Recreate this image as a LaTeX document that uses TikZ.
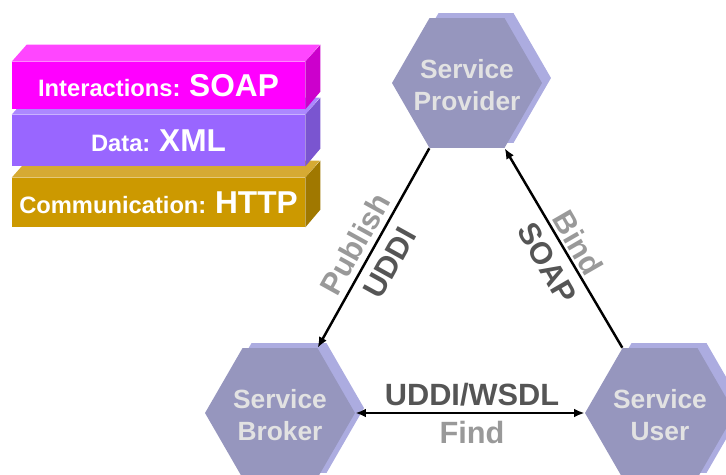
\documentclass[tikz,border=0pt]{standalone}
\usepackage{fontspec}
\setmainfont{Liberation Sans}
\usetikzlibrary{shapes.geometric,arrows.meta,positioning}

\definecolor{hexfront}{RGB}{150,150,190}
\definecolor{hexback}{RGB}{172,172,224}
\definecolor{hextext}{RGB}{226,226,226}
\definecolor{lblgray}{RGB}{153,153,153}
\definecolor{lbldark}{RGB}{85,85,85}
\definecolor{pinkfront}{RGB}{255,0,255}
\definecolor{pinktop}{RGB}{255,70,255}
\definecolor{pinkside}{RGB}{204,0,204}
\definecolor{purpfront}{RGB}{153,102,255}
\definecolor{purptop}{RGB}{172,136,255}
\definecolor{purpside}{RGB}{122,85,208}
\definecolor{goldfront}{RGB}{204,153,0}
\definecolor{goldtop}{RGB}{214,170,51}
\definecolor{goldside}{RGB}{160,120,0}

\begin{document}
\begin{tikzpicture}[x=0.02cm,y=-0.02cm]
	\tikzstyle{hexnode} = [regular polygon, regular polygon sides=6, minimum size=3cm, inner sep=0pt, fill=hexfront]
	\tikzstyle{hexshade} = [regular polygon, regular polygon sides=6, minimum size=3cm, inner sep=0pt, fill=hexback]
	\tikzstyle{hextxt} = [text=hextext, align=center, inner sep=0pt, yshift=-0.04cm, font=\bfseries\fontsize{15}{18.5}\selectfont]
	\tikzstyle{layerbox} = [rectangle, minimum width=5.86cm, inner sep=0pt, text=white, font=\bfseries]
	\tikzstyle{link} = [-{Latex[length=6pt,width=5pt]}, line width=1.4pt, black]
	\tikzstyle{lbl} = [font=\bfseries\fontsize{17.5}{20}\selectfont, inner sep=0pt]

	\useasboundingbox (0,0) rectangle (726,474);

	% protocol stack
	\node (http) at (158.5,202.5) [layerbox, fill=goldfront, minimum height=0.98cm]{\fontsize{13.5}{15}\selectfont Communication: \fontsize{18}{20}\selectfont HTTP};
	\fill[goldtop] (http.north west) -- ++(15,-17) -- ++(293,0) -- (http.north east) -- cycle;
	\fill[goldside] (http.north east) -- ++(15,-17) -- ++(0,49) -- (http.south east) -- cycle;

	\node (xml) at (158.5,140.5) [layerbox, fill=purpfront, minimum height=1.02cm]{\fontsize{13.5}{15}\selectfont Data: \fontsize{18}{20}\selectfont XML};
	\fill[purptop] (xml.north west) -- ++(15,-17) -- ++(293,0) -- (xml.north east) -- cycle;
	\fill[purpside] (xml.north east) -- ++(15,-17) -- ++(0,51) -- (xml.south east) -- cycle;

	\node (soap) at (158.5,85.5) [layerbox, fill=pinkfront, minimum height=0.94cm]{\fontsize{13.5}{15}\selectfont Interactions: \fontsize{18}{20}\selectfont SOAP};
	\fill[pinktop] (soap.north west) -- ++(15,-17) -- ++(293,0) -- (soap.north east) -- cycle;
	\fill[pinkside] (soap.north east) -- ++(15,-17) -- ++(0,47) -- (soap.south east) -- cycle;

	% hexagons
	\node (provb) at (476,78) [hexshade]{};
	\node (prov) at (467,83) [hexnode]{};
	\node (provtxt) at (prov) [hextxt]{Service\\Provider};
	\node (brokb) at (289,408) [hexshade]{};
	\node (brok) at (280,413) [hexnode]{};
	\node (broktxt) at (brok) [hextxt]{Service\\Broker};
	\node (userb) at (669,408) [hexshade]{};
	\node (user) at (660,413) [hexnode]{};
	\node (usertxt) at (user) [hextxt]{Service\\User};

	%Arrows
	\draw[link] (prov.240) -- (brok.60);
	\draw[link] (user.120) -- (prov.300);
	\draw[link, {Latex[length=6pt,width=5pt]}-{Latex[length=6pt,width=5pt]}] (brok.0) -- (user.180);

	%labels
	\node (publish) at (355,244) [lbl, text=lblgray, rotate=61]{Publish};
	\node (uddi) at (390,263) [lbl, text=lbldark, rotate=61]{UDDI};
	\node (bind) at (578,243) [lbl, text=lblgray, rotate=-60]{Bind};
	\node (soapl) at (547,263) [lbl, text=lbldark, rotate=-60]{SOAP};
	\node (wsdl) at (472,405) [lbl, text=lbldark, anchor=base]{UDDI/WSDL};
	\node (find) at (472,443) [lbl, text=lblgray, anchor=base]{Find};
\end{tikzpicture}
\end{document}
